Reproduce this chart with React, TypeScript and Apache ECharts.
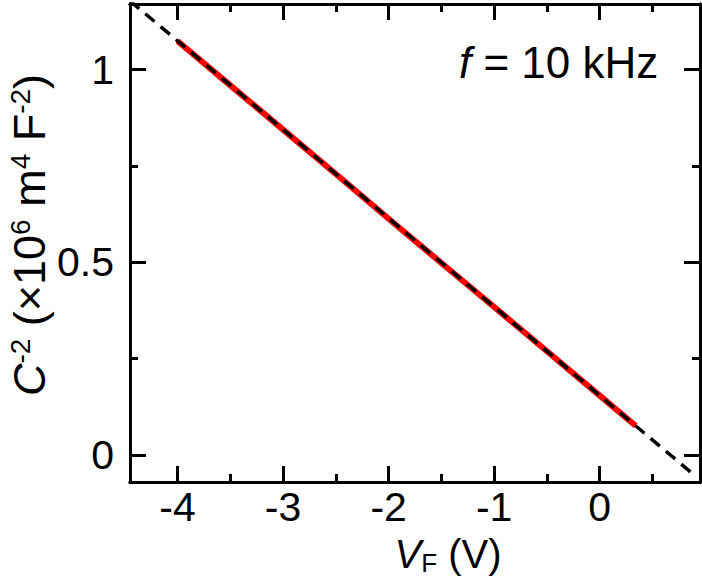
import React, { useEffect, useRef } from "react";
import * as echarts from "echarts";

// Measured data (red)
const voltage = [-4.0, -3.5, -3.0, -2.5, -2.0, -1.5, -1.0, -0.5, 0.0, 0.34];
const invC2 = [1.074, 0.959, 0.844, 0.729, 0.613, 0.498, 0.384, 0.269, 0.154, 0.076];
// Linear fit (black dashed)
const fitV = [-4.45, 0.9];
const fitY = [1.178, -0.053];

const xMajor = [-4, -3, -2, -1, 0];
const xMinor = [-3.5, -2.5, -1.5, -0.5, 0.5];
const yMajor = [0, 0.5, 1];
const yMinor = [0.25, 0.75];

const FONT = "'Liberation Sans', Arial, Helvetica, sans-serif";

export default function App() {
  const ref = useRef<HTMLDivElement>(null);
  useEffect(() => {
    document.body.style.margin = "0";
    const chart = echarts.init(ref.current!, null, { renderer: "svg" });
    const xMin = -4.45, xMax = 0.95, yMin = -0.07, yMax = 1.17;
    const lineStyle = { color: "#000", width: 3 };
    const mkX = (pos: string, ticks: number[], len: number, labels: boolean, name?: boolean) => ({
      type: "value",
      position: pos,
      min: xMin,
      max: xMax,
      axisLine: { show: true, onZero: false, lineStyle },
      axisTick: { show: true, inside: true, length: len, customValues: ticks, lineStyle: { color: "#000", width: 3 } },
      axisLabel: labels
        ? { show: true, customValues: ticks, fontSize: 41, color: "#000", fontFamily: FONT, margin: 4, formatter: (v: number) => String(v) }
        : { show: false },
      splitLine: { show: false },
      ...(name
        ? {
            name: "{i|V}{sub|F}{n| (V)}",
            nameLocation: "middle",
            nameGap: 50,
            nameMoveOverlap: false,
            nameTextStyle: {
              fontFamily: FONT,
              padding: [0, 0, 0, 66],
              rich: {
                i: { fontSize: 40, fontStyle: "italic", color: "#000", fontFamily: FONT },
                sub: { fontSize: 26, color: "#000", fontFamily: FONT, verticalAlign: "bottom", padding: [18, 0, 0, 0] },
                n: { fontSize: 40, color: "#000", fontFamily: FONT },
              },
            },
          }
        : {}),
    });
    const mkY = (pos: string, ticks: number[], len: number, labels: boolean, name?: boolean) => ({
      type: "value",
      position: pos,
      min: yMin,
      max: yMax,
      axisLine: { show: true, onZero: false, lineStyle },
      axisTick: { show: true, inside: true, length: len, customValues: ticks, lineStyle: { color: "#000", width: 3 } },
      axisLabel: labels
        ? { show: true, customValues: ticks, fontSize: 41, color: "#000", fontFamily: FONT, margin: 16, formatter: (v: number) => String(v) }
        : { show: false },
      splitLine: { show: false },
      ...(name
        ? {
            name: "{i|C}{sup|-2}{n| (×10}{sup|6}{n| m}{sup|4}{n| F}{sup|-2}{n|)}",
            nameLocation: "middle",
            nameGap: 77,
            nameRotate: 90,
            nameMoveOverlap: false,
            nameTextStyle: {
              fontFamily: FONT,
              padding: [0, 0, 0, 16],
              rich: {
                i: { fontSize: 45, fontStyle: "italic", color: "#000", fontFamily: FONT },
                sup: { fontSize: 28, color: "#000", fontFamily: FONT, verticalAlign: "top", padding: [0, 0, 19, 0] },
                n: { fontSize: 45, color: "#000", fontFamily: FONT },
              },
            },
          }
        : {}),
    });
    chart.setOption({
      animation: false,
      backgroundColor: "#fff",
      grid: { left: 130, right: 2, top: 4, bottom: 103, containLabel: false, outerBoundsMode: "none" },
      xAxis: [
        mkX("bottom", xMajor, 16, true, true),
        mkX("bottom", xMinor, 8, false),
        mkX("top", xMajor, 16, false),
        mkX("top", xMinor, 8, false),
      ],
      yAxis: [
        mkY("left", yMajor, 16, true, true),
        mkY("left", yMinor, 8, false),
        mkY("right", yMajor, 16, false),
        mkY("right", yMinor, 8, false),
      ],
      graphic: [
        {
          type: "text",
          left: 459,
          top: 40,
          style: {
            text: "{i|f}{n| = 10 kHz}",
            rich: {
              i: { fontSize: 44, fontStyle: "italic", fill: "#000", fontFamily: FONT },
              n: { fontSize: 44, fill: "#000", fontFamily: FONT },
            },
          },
        },
      ],
      series: [
        {
          type: "line",
          xAxisIndex: 0,
          yAxisIndex: 0,
          data: voltage.map((v, i) => [v, invC2[i]]),
          showSymbol: false,
          lineStyle: { color: "#ff0000", width: 6 },
          z: 2,
        },
        {
          type: "line",
          xAxisIndex: 0,
          yAxisIndex: 0,
          data: fitV.map((v, i) => [v, fitY[i]]),
          showSymbol: false,
          clip: true,
          lineStyle: { color: "#000", width: 3.5, type: [12, 8] },
          z: 3,
        },
      ],
    });
    return () => chart.dispose();
  }, []);
  return <div ref={ref} style={{ width: 702, height: 585 }} />;
}
